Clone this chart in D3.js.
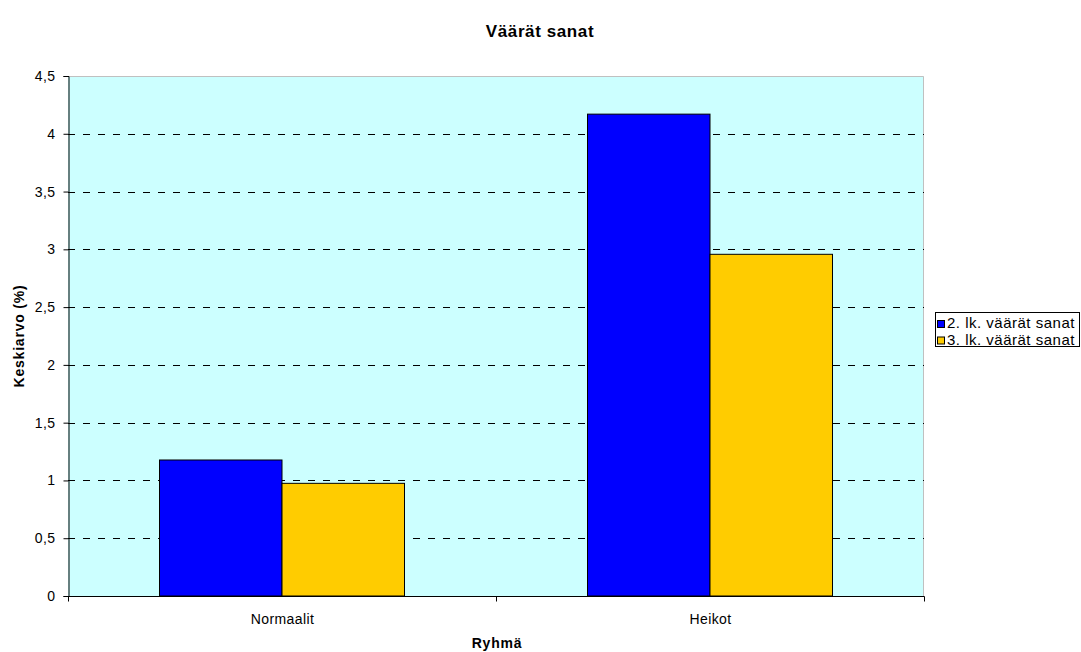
<!DOCTYPE html>
<html>
<head>
<meta charset="utf-8">
<script src="https://cdn.jsdelivr.net/npm/d3@7/dist/d3.min.js"></script>
<style>
  html, body { margin: 0; padding: 0; background: #fff; }
  svg { display: block; font-family: "Liberation Sans", Arial, sans-serif; }
</style>
</head>
<body>
<svg id="chart" width="1081" height="652"></svg>
<script>
// Mean share of wrong words per group, grade 2 and grade 3
const categories = ["Normaalit", "Heikot"];
const seriesNames = ["2. lk. väärät sanat", "3. lk. väärät sanat"];
const grade2 = [1.177, 4.17];
const grade3 = [0.975, 2.957];
const yTicks = [0, 0.5, 1, 1.5, 2, 2.5, 3, 3.5, 4, 4.5];
const colors = ["#0000FF", "#FFCC00"];

const svg = d3.select("#chart");
const plot = { left: 68, right: 924, top: 76, bottom: 596 };

const x = d3.scaleBand().domain(categories).range([plot.left, plot.right]).paddingInner(0).paddingOuter(0);
const y = d3.scaleLinear().domain([0, 4.5]).range([plot.bottom, plot.top]);

// plot background
svg.append("rect")
  .attr("x", plot.left).attr("y", plot.top)
  .attr("width", plot.right - plot.left).attr("height", plot.bottom - plot.top)
  .attr("fill", "#CCFFFF");

// plot border (top and right sides in grey)
svg.append("path")
  .attr("d", `M${plot.left},${plot.top + 0.5}H${plot.right - 0.5}V${plot.bottom}`)
  .attr("fill", "none").attr("stroke", "#c0c0c0").attr("stroke-width", 1);

// dashed gridlines
svg.append("g").selectAll("line")
  .data(yTicks.filter(t => t > 0 && t < 4.5))
  .join("line")
  .attr("x1", plot.left).attr("x2", plot.right)
  .attr("y1", d => Math.round(y(d)) + 0.5).attr("y2", d => Math.round(y(d)) + 0.5)
  .attr("stroke", "#000").attr("stroke-width", 1)
  .attr("stroke-dasharray", "7,8");

// bars
const groupPad = 91.5;
const barW = (x.bandwidth() - 2 * groupPad) / 2;
const rows = categories.map((c, i) => [grade2[i], grade3[i]]);
const groups = svg.append("g").selectAll("g")
  .data(rows)
  .join("g")
  .attr("transform", (d, i) => `translate(${x(categories[i]) + groupPad},0)`);
groups.selectAll("rect")
  .data(d => d)
  .join("rect")
  .attr("x", (d, j) => j * barW)
  .attr("y", d => y(d))
  .attr("width", barW)
  .attr("height", d => plot.bottom - y(d))
  .attr("fill", (d, j) => colors[j])
  .attr("stroke", "#000").attr("stroke-width", 1);

// y axis
const yAxis = svg.append("g")
  .attr("transform", `translate(${plot.left + 0.5},0)`)
  .call(d3.axisLeft(y).tickValues(yTicks).tickSize(5).tickPadding(8)
    .tickFormat(d => String(d).replace(".", ",")));
yAxis.select(".domain").attr("stroke", "#000");
yAxis.selectAll(".tick line").attr("stroke", "#000");
yAxis.selectAll("text").attr("font-size", 14).attr("fill", "#000")
  .attr("letter-spacing", 0.4)
  .attr("font-family", "Liberation Sans, Arial, sans-serif");

// x axis with ticks at category boundaries
const xAxisG = svg.append("g").attr("transform", `translate(0,${plot.bottom + 0.5})`);
xAxisG.append("line")
  .attr("x1", plot.left).attr("x2", plot.right + 0.5)
  .attr("stroke", "#000");
const boundaries = [plot.left, ...categories.map(c => x(c) + x.bandwidth())];
xAxisG.selectAll("line.tk").data(boundaries).join("line")
  .attr("class", "tk")
  .attr("x1", d => Math.round(d) + 0.5).attr("x2", d => Math.round(d) + 0.5)
  .attr("y1", 0).attr("y2", 5).attr("stroke", "#000");
xAxisG.selectAll("text").data(categories).join("text")
  .attr("x", d => x(d) + x.bandwidth() / 2 + 0.5)
  .attr("y", 27.5)
  .attr("text-anchor", "middle")
  .attr("font-size", 14).attr("letter-spacing", 0.4).attr("fill", "#000")
  .text(d => d);

// titles
svg.append("text").attr("x", 540).attr("y", 37)
  .attr("text-anchor", "middle").attr("font-size", 17).attr("font-weight", "bold")
  .attr("letter-spacing", 0.6)
  .text("Väärät sanat");
svg.append("text").attr("x", 497).attr("y", 648)
  .attr("text-anchor", "middle").attr("font-size", 14).attr("font-weight", "bold")
  .attr("letter-spacing", 0.8)
  .text("Ryhmä");
svg.append("text")
  .attr("transform", `translate(24,${(plot.top + plot.bottom) / 2}) rotate(-90)`)
  .attr("text-anchor", "middle").attr("font-size", 14).attr("font-weight", "bold")
  .attr("letter-spacing", 0.8)
  .text("Keskiarvo (%)");

// legend
const legend = svg.append("g");
legend.append("rect")
  .attr("x", 935.5).attr("y", 312.5).attr("width", 144).attr("height", 34)
  .attr("fill", "#fff").attr("stroke", "#000");
const items = legend.selectAll("g").data(seriesNames).join("g")
  .attr("transform", (d, i) => `translate(937,${328 + i * 16.5})`);
items.append("rect")
  .attr("x", 0.5).attr("y", -7.5).attr("width", 7).attr("height", 7)
  .attr("fill", (d, i) => colors[i]).attr("stroke", "#000");
items.append("text")
  .attr("x", 10).attr("y", 0)
  .attr("font-size", 15).attr("letter-spacing", 0.5).attr("fill", "#000")
  .text(d => d);
</script>
</body>
</html>
